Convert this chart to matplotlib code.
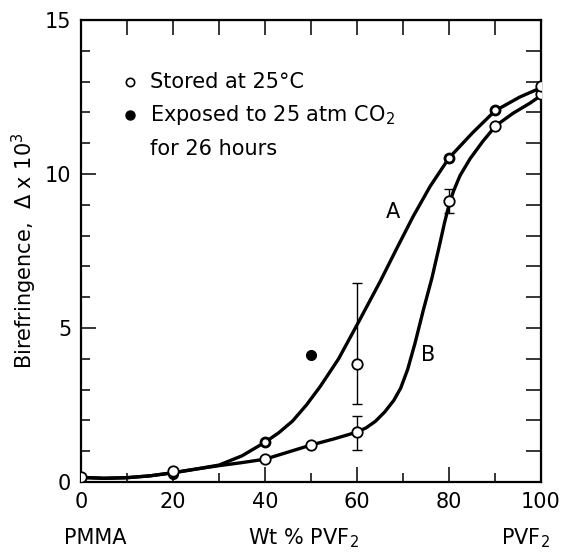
import numpy as np
import matplotlib
matplotlib.use('Agg')
import matplotlib.pyplot as plt

plt.rcParams['font.family'] = ['DejaVu Sans']

# curve A (exposed / upper)
curve_a_x = [0, 5, 10, 15, 20, 25, 30, 35, 40, 43, 46, 49, 52, 56, 60, 62.5,
             65, 68.7, 72.2, 75.9, 80, 85.2, 90, 95.4, 100]
curve_a_y = [0.15, 0.12, 0.14, 0.2, 0.3, 0.42, 0.55, 0.85, 1.29, 1.6, 1.98,
             2.5, 3.1, 4.0, 5.1, 5.8, 6.5, 7.6, 8.62, 9.6, 10.52, 11.35, 12.05,
             12.5, 12.8]

# curve B (stored at 25 C)
curve_b_x = [0, 5, 10, 15, 20, 25, 30, 35, 40, 45, 50, 55, 60, 62, 64, 66, 68,
             69.5, 71, 72.6, 74.4, 76.3, 78, 79, 80, 81, 82.4, 84.6, 87.4, 90.2,
             93.9, 97.6, 100]
curve_b_y = [0.15, 0.12, 0.14, 0.2, 0.3, 0.42, 0.53, 0.63, 0.74, 0.97, 1.2,
             1.4, 1.62, 1.76, 1.97, 2.27, 2.65, 3.05, 3.65, 4.5, 5.57, 6.63,
             7.73, 8.4, 9.0, 9.45, 9.95, 10.5, 11.07, 11.57, 11.97, 12.3, 12.55]

# open points (stored)
stored_x = [0, 20, 40, 50, 60, 60, 80, 90, 100, 100]
stored_y = [0.15, 0.35, 0.74, 1.2, 1.62, 3.82, 9.13, 11.57, 12.6, 12.85]

# points sitting on curve A
a_pts_x = [40, 80, 90]
a_pts_y = [1.29, 10.52, 12.07]

# filled points (exposed to CO2)
exposed_x = [20, 50]
exposed_y = [0.25, 4.11]

# error bars
err_x = [60, 60, 80]
err_y = [1.62, 3.82, 9.13]
err_lo = [1.04, 2.52, 8.74]
err_hi = [2.14, 6.47, 9.5]

xticks = [0, 20, 40, 60, 80, 100]
yticks = [0, 5, 10, 15]

fig = plt.figure(figsize=(5.61, 5.56), dpi=100)
ax = fig.add_axes([81 / 561, 74 / 556, 460 / 561, 462 / 556])

ax.plot(curve_a_x, curve_a_y, color='black', lw=2.4, solid_capstyle='round',
        solid_joinstyle='round', zorder=2)
ax.plot(curve_b_x, curve_b_y, color='black', lw=2.4, solid_capstyle='round',
        solid_joinstyle='round', zorder=2)

yerr = [np.array(err_y) - np.array(err_lo), np.array(err_hi) - np.array(err_y)]
ax.errorbar(err_x, err_y, yerr=yerr, fmt='none', ecolor='black', elinewidth=1.0,
            capsize=3.3, capthick=1.0, zorder=1)

ax.plot(exposed_x, exposed_y, 'o', color='black', ms=7, zorder=3)
ax.plot(stored_x, stored_y, 'o', mfc='white', mec='black', mew=1.3, ms=7.5, zorder=4)
ax.plot(a_pts_x, a_pts_y, 'o', mfc='white', mec='black', mew=2.0, ms=6.5, zorder=4)

ax.set_xlim(0, 100)
ax.set_ylim(0, 15)
ax.set_xticks(xticks)
ax.set_xticks(range(10, 100, 20), minor=True)
ax.set_yticks(yticks)
ax.set_yticks(range(1, 15), minor=True)
ax.tick_params(which='both', direction='in', width=1.1, labelsize=15, pad=7)
ax.tick_params(which='major', length=11)
ax.tick_params(which='minor', length=6.5)
for s in ax.spines.values():
    s.set_linewidth(1.6)

# top and right ticks, all the same length
top = ax.secondary_xaxis('top')
top.set_xticks(range(10, 100, 10))
top.tick_params(direction='in', length=11, width=1.1, labeltop=False)
right = ax.secondary_yaxis('right')
right.set_yticks(range(1, 15))
right.tick_params(direction='in', length=11, width=1.1, labelright=False)

ax.set_ylabel('Birefringence,  $\\Delta$ x $10^3$', fontsize=15, labelpad=4)

# legend drawn by hand
ax.plot([10.6], [13.0], 'o', mfc='white', mec='black', mew=1.2, ms=6, clip_on=False)
ax.plot([10.6], [11.9], 'o', color='black', ms=6.5, clip_on=False)
ax.text(15, 13.0, 'Stored at 25°C', fontsize=15, va='center')
ax.text(15, 11.9, 'Exposed to 25 atm CO$_2$', fontsize=15, va='center')
ax.text(15, 10.8, 'for 26 hours', fontsize=15, va='center')

ax.text(67.8, 8.75, 'A', fontsize=15, ha='center', va='center')
ax.text(75.4, 4.12, 'B', fontsize=15, ha='center', va='center')

fig.text(95 / 561, 1 - 538 / 556, 'PMMA', fontsize=15, ha='center', va='center')
fig.text(303 / 561, 1 - 538 / 556, 'Wt % PVF$_2$', fontsize=15, ha='center', va='center')
fig.text(525 / 561, 1 - 538 / 556, 'PVF$_2$', fontsize=15, ha='center', va='center')

fig.savefig('out.png', dpi=100)
